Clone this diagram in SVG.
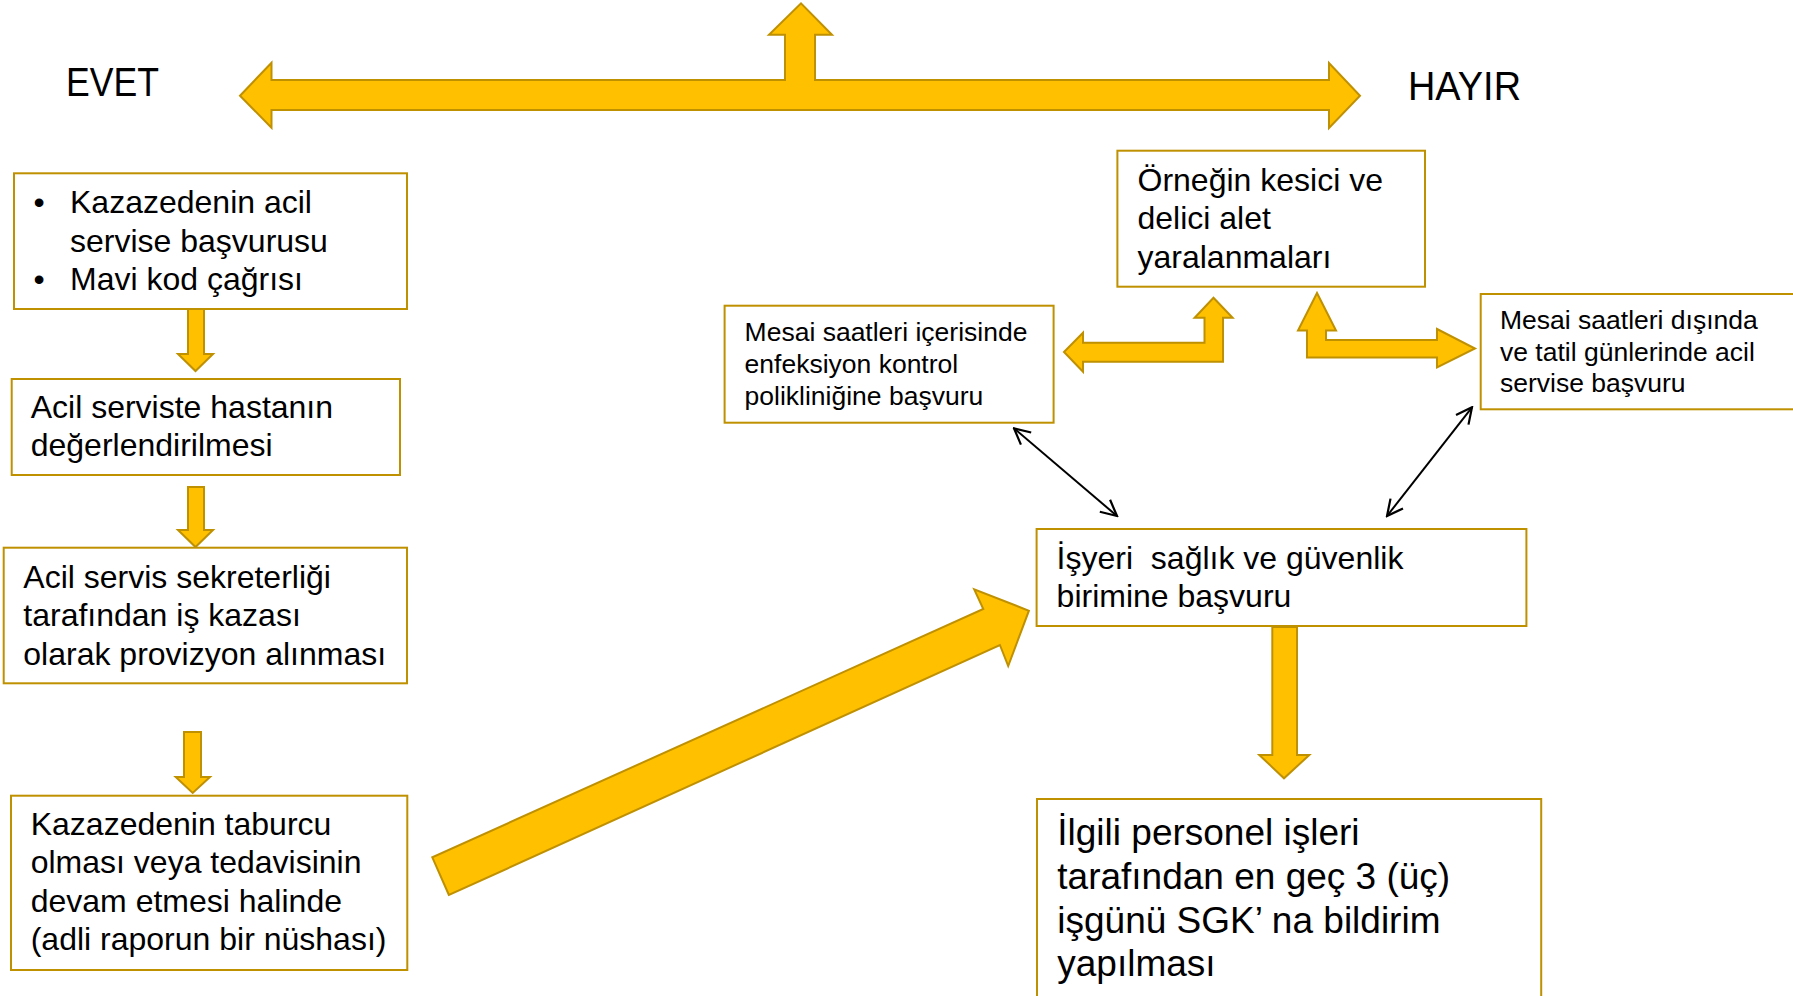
<svg xmlns="http://www.w3.org/2000/svg" width="1793" height="996" viewBox="0 0 1793 996">
<defs>
<style>
.box{fill:#fff;stroke:#BF9000;stroke-width:2}
.arr{fill:#FFC000;stroke:#BF9000;stroke-width:2;stroke-linejoin:miter}
.t{font-family:"Liberation Sans",Arial,sans-serif;fill:#000}
.m{font-size:32px}
.s{font-size:26.5px}
.l{font-size:37px}
.h{font-size:40px}
.thin{stroke:#000;stroke-width:2;fill:none}
</style>
<marker id="open" viewBox="0 0 12 12" refX="11" refY="6" markerWidth="19" markerHeight="19" markerUnits="userSpaceOnUse" orient="auto-start-reverse">
<path d="M1,1 L11,6 L1,11" fill="none" stroke="#000" stroke-width="1.4"/>
</marker>
</defs>
<rect width="1793" height="996" fill="#fff"/>

<g id="labels">
<text class="t h" x="66" y="96" textLength="93" lengthAdjust="spacingAndGlyphs">EVET</text>
<text class="t h" x="1408" y="100" textLength="113" lengthAdjust="spacingAndGlyphs">HAYIR</text>
</g>

<g id="connectors">
<polygon class="arr" points="240,95.7 271.5,62.7 271.5,80 785,80 785,34.7 769,34.7 801,3.3 832,34.7 815,34.7 815,80 1329,80 1329,63 1360,95.7 1329,128 1329,110 271.5,110 271.5,127.7"/>
<polygon class="arr" points="188,309 204,309 204,354 213,354 195.5,371 178,354 188,354"/>
<polygon class="arr" points="188,487 204,487 204,530 213,530 195.5,547 178,530 188,530"/>
<polygon class="arr" points="184,732 201,732 201,777 210,777 192.7,793 175.7,777 184,777"/>
<polygon class="arr" points="448.9,895 432.3,857.3 983.3,609 974.2,589.3 1028.9,610.7 1008.2,666 999.9,645"/>
<polygon class="arr" points="1064,352 1083,332.7 1083,342.7 1204.5,342.7 1204.5,317.7 1194.6,317.7 1213.5,297.7 1232.6,317.7 1223,317.7 1223,361.7 1083,361.7 1083,371.7"/>
<polygon class="arr" points="1317,293 1336,330.5 1326,330.5 1326,340 1437,340 1437,329 1475,348.5 1437,367.5 1437,357.5 1307,357.5 1307,330.5 1298,330.5"/>
<polygon class="arr" points="1272.3,627 1297,627 1297,755 1309.3,755 1284,778.3 1259.3,755 1272.3,755"/>
<line class="thin" x1="1014" y1="428.3" x2="1117" y2="516" marker-start="url(#open)" marker-end="url(#open)"/>
<line class="thin" x1="1472" y1="407.3" x2="1387" y2="516" marker-start="url(#open)" marker-end="url(#open)"/>
</g>

<g id="n1">
<rect class="box" x="14" y="173.3" width="393" height="135.7"/>
<text class="t m" x="33.5" y="213.3">•</text>
<text class="t m" x="70" y="213.3">Kazazedenin acil</text>
<text class="t m" x="70" y="251.7">servise başvurusu</text>
<text class="t m" x="33.5" y="290">•</text>
<text class="t m" x="70" y="290">Mavi kod çağrısı</text>
</g>

<g id="n2">
<rect class="box" x="11.7" y="379" width="388.3" height="96"/>
<text class="t m" x="30.7" y="418.3">Acil serviste hastanın</text>
<text class="t m" x="30.7" y="456.3">değerlendirilmesi</text>
</g>

<g id="n3">
<rect class="box" x="3.7" y="547.7" width="403.3" height="135.6"/>
<text class="t m" x="23.3" y="587.7">Acil servis sekreterliği</text>
<text class="t m" x="23.3" y="626.3">tarafından iş kazası</text>
<text class="t m" x="23.3" y="664.5">olarak provizyon alınması</text>
</g>

<g id="n4">
<rect class="box" x="11" y="795.7" width="396.3" height="174.3"/>
<text class="t m" x="30.7" y="835">Kazazedenin taburcu</text>
<text class="t m" x="30.7" y="873.3">olması veya tedavisinin</text>
<text class="t m" x="30.7" y="911.7">devam etmesi halinde</text>
<text class="t m" x="30.7" y="949.5">(adli raporun bir nüshası)</text>
</g>

<g id="n5">
<rect class="box" x="1117.4" y="150.7" width="307.6" height="136"/>
<text class="t m" x="1137.5" y="190.7">Örneğin kesici ve</text>
<text class="t m" x="1137.5" y="229.3">delici alet</text>
<text class="t m" x="1137.5" y="267.7">yaralanmaları</text>
</g>

<g id="n6">
<rect class="box" x="724.6" y="305.7" width="329" height="117"/>
<text class="t s" x="744.6" y="341">Mesai saatleri içerisinde</text>
<text class="t s" x="744.6" y="373.3">enfeksiyon kontrol</text>
<text class="t s" x="744.6" y="405.3">polikliniğine başvuru</text>
</g>

<g id="n7">
<rect class="box" x="1480.7" y="294" width="330" height="115.3"/>
<text class="t s" x="1500" y="328.5">Mesai saatleri dışında</text>
<text class="t s" x="1500" y="360.5">ve tatil günlerinde acil</text>
<text class="t s" x="1500" y="392">servise başvuru</text>
</g>

<g id="n8">
<rect class="box" x="1036.6" y="529" width="489.8" height="97"/>
<text class="t m" x="1056.6" y="569.3" xml:space="preserve">İşyeri  sağlık ve güvenlik</text>
<text class="t m" x="1056.6" y="607.3">birimine başvuru</text>
</g>

<g id="n9">
<rect class="box" x="1037" y="799" width="504.2" height="220"/>
<text class="t l" x="1057.3" y="845">İlgili personel işleri</text>
<text class="t l" x="1057.3" y="889">tarafından en geç 3 (üç)</text>
<text class="t l" x="1057.3" y="933.3">işgünü SGK’ na bildirim</text>
<text class="t l" x="1057.3" y="976">yapılması</text>
</g>
</svg>
